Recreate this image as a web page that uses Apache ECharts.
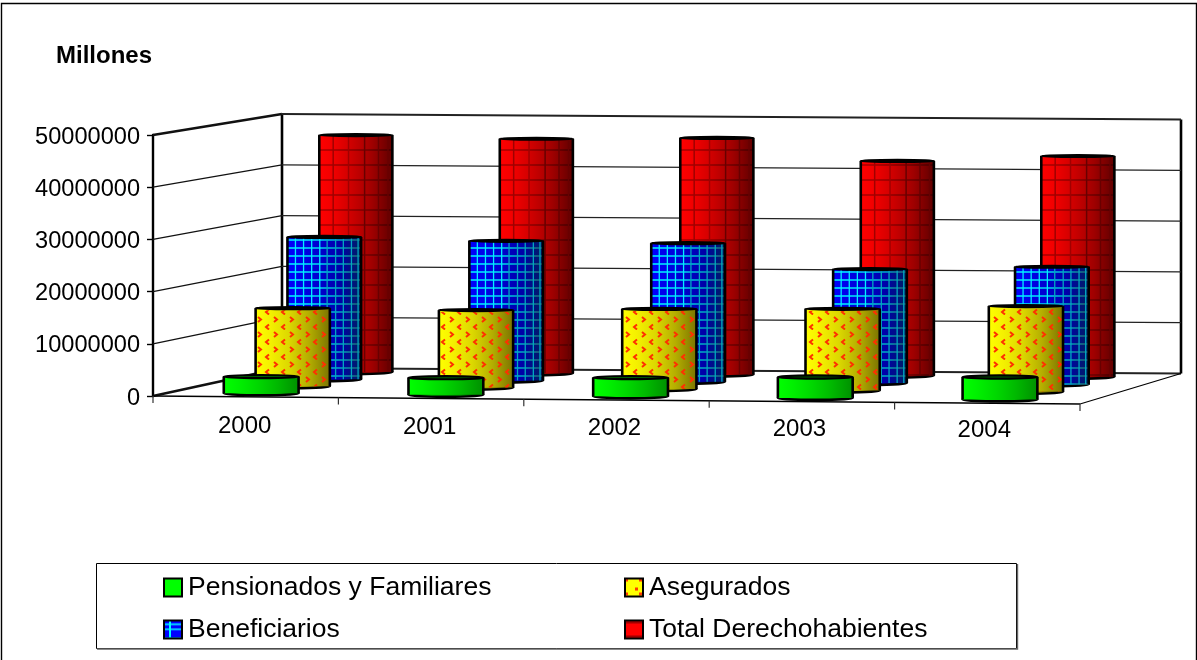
<!DOCTYPE html>
<html>
<head>
<meta charset="utf-8">
<style>html,body{margin:0;padding:0;background:#fff}#c{width:1197px;height:660px}</style>
<script src="https://cdn.jsdelivr.net/npm/echarts@6/dist/echarts.min.js"></script>
</head>
<body>
<div id="c"></div>
<script>
const categories = ['2000', '2001', '2002', '2003', '2004'];
const pensionados = [3200000, 3300000, 3600000, 4000000, 4300000];
const asegurados = [15100000, 15000000, 15500000, 15800000, 16600000];
const beneficiarios = [27700000, 27200000, 27000000, 22200000, 22900000];
const totalDerecho = [46500000, 46000000, 46400000, 42100000, 43300000];
const yTicks = [0, 10000000, 20000000, 30000000, 40000000, 50000000];
const seriesNames = ['Pensionados y Familiares', 'Asegurados', 'Beneficiarios', 'Total Derechohabientes'];

const FONT = '"Liberation Sans", Arial, sans-serif';
// Floor corners of the 3D box, and the box height at its front and back
const FL = [153, 396], FR = [1080, 404], BL = [282, 368], BR = [1181, 373.5];
const H_FRONT = 261, H_BACK = 254;
const lerp = (a, b, t) => a + (b - a) * t;

function project(u, v, d) {
  const fx = lerp(FL[0], FR[0], u), fy = lerp(FL[1], FR[1], u);
  const bx = lerp(BL[0], BR[0], u), by = lerp(BL[1], BR[1], u);
  return [lerp(fx, bx, d), lerp(fy, by, d) - v * lerp(H_FRONT, H_BACK, d)];
}
function norm(pt, cs) {
  return [(pt[0] - cs.x) / cs.width, (cs.y + cs.height - pt[1]) / cs.height];
}
function makeCanvas(w, h, draw) {
  const c = document.createElement('canvas');
  c.width = w; c.height = h;
  draw(c.getContext('2d'));
  return c;
}
const chevrons = makeCanvas(16, 15, g => {
  g.strokeStyle = '#ff3000'; g.lineWidth = 2;
  g.beginPath(); g.moveTo(2, 2); g.lineTo(5, 4.5); g.lineTo(2, 7); g.stroke();
  g.beginPath(); g.moveTo(13, 9.5); g.lineTo(10, 12); g.lineTo(13, 14.5); g.stroke();
});
const legendBlue = makeCanvas(14, 14, g => {
  g.fillStyle = '#0000ff'; g.fillRect(0, 0, 14, 14);
  g.fillStyle = '#00ffff'; g.fillRect(0, 3, 14, 1.5); g.fillRect(0, 8, 14, 1.5); g.fillRect(5, 0, 2, 14);
});
const legendYellow = makeCanvas(14, 14, g => {
  g.fillStyle = '#ffff00'; g.fillRect(0, 0, 14, 14);
  g.fillStyle = '#ff3a00'; g.fillRect(0, 0, 3, 3); g.fillRect(10, 9, 3, 3);
});
const legendRed = makeCanvas(14, 14, g => {
  g.fillStyle = '#ff0000'; g.fillRect(0, 0, 14, 14);
  g.fillStyle = '#a00000'; g.fillRect(0, 1, 14, 2);
});

const gradient = stops => ({
  type: 'linear', x: 0, y: 0, x2: 1, y2: 0,
  colorStops: stops.map((c, i) => ({ offset: [0, 0.2, 0.45, 0.72, 1][i], color: c }))
});
const looks = [
  { depth: 0.125, fill: gradient(['#00ff00', '#00f000', '#00d800', '#00b800', '#009000']), topRy: 1.6, topFill: '#006800' },
  { depth: 0.375, fill: gradient(['#ffff00', '#f4f000', '#dcd800', '#b4ae00', '#7c7400']), topRy: 1, topFill: '#000', pattern: chevrons },
  { depth: 0.625, fill: gradient(['#0000ff', '#0000e8', '#0000cc', '#0000a8', '#002060']), topRy: 1, topFill: '#000',
    lineStep: 8, lineW: 1.3, lineFill: gradient(['#00ffff', '#00f0ff', '#00d8f0', '#00a8c0', '#206070']),
    vx: [0.1, 0.21, 0.32, 0.43, 0.53, 0.645, 0.75, 0.86, 0.95] },
  { depth: 0.875, fill: gradient(['#ff0000', '#f00000', '#cc0000', '#a00000', '#600000']), topRy: 1, topFill: '#000',
    lineStep: 15, lineW: 1.5, lineFill: gradient(['#a80000', '#a00000', '#880000', '#680000', '#400000']),
    vx: [0.18, 0.39, 0.61, 0.8, 0.93] }
];
const BAR_RATIO = 0.405;

function renderCylinder(look) {
  return function (params, api) {
    const cs = params.coordSys;
    const top = norm(api.coord([api.value(0), api.value(1)]), cs);
    const half = BAR_RATIO / 2 * api.size([1, 0])[0] / cs.width;
    const L = project(top[0] - half, top[1], look.depth);
    const R = project(top[0] + half, top[1], look.depth);
    const B = project(top[0], 0, look.depth);
    const x0 = L[0] - 0.3, x1 = R[0] - 0.3, cx = (x0 + x1) / 2, rx = (x1 - x0) / 2;
    const yTop = project(top[0], top[1], look.depth)[1], yBase = B[1];
    const kids = [];
    kids.push({ type: 'ellipse', shape: { cx, cy: yBase, rx, ry: 2 }, style: { fill: look.fill, stroke: '#000', lineWidth: 2.6 } });
    kids.push({ type: 'rect', shape: { x: x0, y: yTop, width: x1 - x0, height: yBase - yTop }, style: { fill: look.fill } });
    if (look.pattern) {
      kids.push({ type: 'rect', shape: { x: x0, y: yTop + 2, width: x1 - x0, height: yBase - yTop - 2 },
        style: { fill: { image: look.pattern, repeat: 'repeat' } } });
    }
    if (look.lineStep) {
      for (let y = Math.ceil(yTop / look.lineStep + 0.2) * look.lineStep; y < yBase; y += look.lineStep) {
        kids.push({ type: 'rect', shape: { x: x0, y: y - look.lineW / 2, width: x1 - x0, height: look.lineW }, style: { fill: look.lineFill } });
      }
      look.vx.forEach(f => {
        const c = f < 0.5 ? look.lineFill.colorStops[1].color : look.lineFill.colorStops[3].color;
        kids.push({ type: 'rect', shape: { x: x0 + f * (x1 - x0), y: yTop, width: look.lineW, height: yBase - yTop }, style: { fill: c } });
      });
    }
    kids.push({ type: 'line', shape: { x1: x0, y1: yTop, x2: x0, y2: yBase }, style: { stroke: '#000', lineWidth: 2.6 } });
    kids.push({ type: 'line', shape: { x1: x1, y1: yTop, x2: x1, y2: yBase }, style: { stroke: '#000', lineWidth: 2.6 } });
    kids.push({ type: 'ellipse', shape: { cx, cy: yTop, rx, ry: look.topRy }, style: { fill: look.topFill, stroke: '#000', lineWidth: 2.2 } });
    return { type: 'group', children: kids };
  };
}

function seg(a, b, w, color) {
  return { type: 'line', shape: { x1: a[0], y1: a[1], x2: b[0], y2: b[1] }, style: { stroke: color || '#000', lineWidth: w } };
}
function renderWalls(params, api) {
  const cs = params.coordSys;
  const v = norm(api.coord([0, api.value(0)]), cs)[1];
  const edge = v === 0 || v === 1;
  const kids = [
    seg(project(0, v, 0), project(0, v, 1), edge ? 2.6 : 1.2, '#111'),
    seg(project(0, v, 1), project(1, v, 1), edge ? 2.2 : 1.2, '#222')
  ];
  if (params.dataIndex === 0) {
    kids.push(seg(project(0, 0, 1), project(0, 1, 1), 2.6));
    kids.push(seg(project(1, 0, 1), project(1, 1, 1), 2.6));
    kids.push(seg(project(0, 0, 0), project(1, 0, 0), 1.4));
    kids.push(seg(project(1, 0, 0), project(1, 0, 1), 1.2));
    for (let i = 0; i <= categories.length; i++) {
      const p = project(i / categories.length, 0, 0);
      kids.push(seg(p, [p[0], p[1] + 7], 1.2, '#333'));
    }
  }
  return { type: 'group', children: kids };
}

const values = [pensionados, asegurados, beneficiarios, totalDerecho];
const chart = echarts.init(document.getElementById('c'), null, { renderer: 'canvas' });
const legendAt = [[163, 574], [624, 574], [163, 616], [624, 616]];
const legendFill = ['#00ff00', { image: legendYellow, repeat: 'repeat' }, { image: legendBlue, repeat: 'repeat' }, { image: legendRed, repeat: 'repeat' }];

chart.setOption({
  animation: false,
  backgroundColor: '#fff',
  textStyle: { fontFamily: FONT },
  title: { text: 'Millones', left: 51, top: 39, textStyle: { fontFamily: FONT, fontSize: 24, fontWeight: 'bold', color: '#000' } },
  grid: { left: FL[0], top: FL[1] - H_FRONT, width: FR[0] - FL[0], height: H_FRONT },
  xAxis: {
    type: 'category',
    data: categories.map((c, i) => ({ value: c, textStyle: { padding: [i, 2 + i, 0, 0] } })),
    axisLine: { show: false }, axisTick: { show: false },
    axisLabel: { fontFamily: FONT, fontSize: 24, color: '#000', margin: 18, interval: 0 }
  },
  yAxis: {
    type: 'value', min: 0, max: 50000000, interval: 10000000,
    axisLine: { show: true, lineStyle: { color: '#000', width: 2.4 } },
    axisTick: { show: true, length: 6, lineStyle: { color: '#000', width: 1.4 } },
    splitLine: { show: false },
    axisLabel: { margin: 13, formatter: v => '{n|' + v + '}',
      rich: { n: { fontFamily: FONT, fontSize: 23.6, color: '#000', padding: [4, 0, 0, 0] } } }
  },
  legend: seriesNames.map((n, i) => ({
    left: legendAt[i][0], top: legendAt[i][1], selectedMode: false, padding: 0,
    itemWidth: 18, itemHeight: 18,
    textStyle: { fontFamily: FONT, fontSize: 26.5, color: '#000', padding: [2, 0, 0, 1] },
    data: [{ name: n, icon: 'rect', itemStyle: { color: legendFill[i], borderColor: '#000', borderWidth: 2 } }]
  })),
  graphic: [
    { type: 'rect', z: 1, silent: true, shape: { x: 1.5, y: 3.5, width: 1195, height: 700 }, style: { fill: 'none', stroke: '#000', lineWidth: 1.4 } },
    { type: 'rect', z: 1, silent: true, shape: { x: 96.5, y: 563.5, width: 920, height: 85 }, style: { fill: '#fff', stroke: '#000', lineWidth: 1 } },
    { type: 'polyline', z: 1, silent: true, shape: { points: [[97, 649], [1017.5, 649], [1017.5, 564]] }, style: { fill: 'none', stroke: '#666', lineWidth: 1.4 } }
  ],
  series: [
    { type: 'custom', name: 'walls', coordinateSystem: 'cartesian2d', z: 1, silent: true, clip: false,
      encode: { y: 0 }, data: yTicks.map(v => [v]), renderItem: renderWalls },
    ...seriesNames.map((n, k) => ({
      type: 'custom', name: n, coordinateSystem: 'cartesian2d', z: 10 - k, silent: true, clip: false,
      encode: { x: 0, y: 1 },
      data: values[k].map((v, i) => [i, v]),
      renderItem: renderCylinder(looks[k])
    }))
  ]
});
</script>
</body>
</html>
